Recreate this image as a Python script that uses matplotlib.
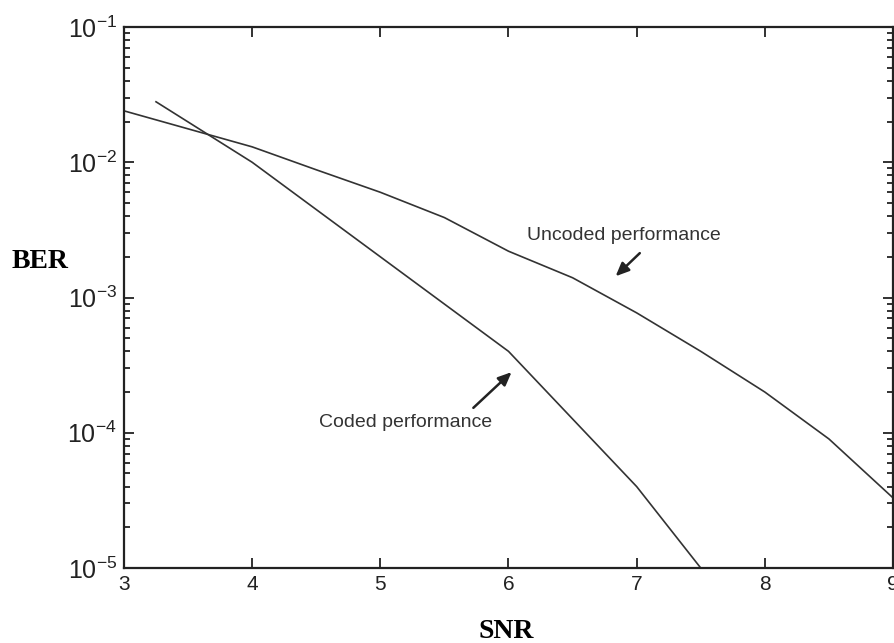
import numpy as np
import matplotlib.pyplot as plt

# values
snr_uncoded = [3.0, 4.0, 4.5, 5.0, 5.5, 6.0, 6.5, 7.0, 7.5, 8.0, 8.5, 9.0]
ber_uncoded = [0.024, 0.013, 0.0088, 0.006, 0.0039, 0.0022, 0.0014, 0.00077,
               0.0004, 0.0002, 0.00009, 0.000033]
snr_coded = [3.25, 4.0, 5.0, 6.0, 7.0, 7.5]
ber_coded = [0.028, 0.01, 0.002, 0.0004, 0.00004, 0.00001]
x_ticks = [3, 4, 5, 6, 7, 8, 9]

plt.rcParams['font.family'] = ['Liberation Sans', 'DejaVu Sans']
plt.rcParams['mathtext.fontset'] = 'custom'
plt.rcParams['mathtext.rm'] = 'Liberation Sans'

fig = plt.figure(figsize=(8.95, 6.43), dpi=100)
ax = fig.add_axes([0.1385, 0.1166, 0.8593, 0.8414])

ax.semilogy(snr_uncoded, ber_uncoded, color='#333333', lw=1.2)
ax.semilogy(snr_coded, ber_coded, color='#333333', lw=1.2)

ax.set_xlim(3, 9)
ax.set_ylim(1e-5, 1e-1)
ax.set_xticks(x_ticks)
ax.tick_params(which='both', direction='in', top=True, right=True, width=1.3,
               colors='#222222')
ax.tick_params(axis='x', labelsize=15)
ax.tick_params(axis='y', labelsize=18)
ax.tick_params(which='major', length=7, pad=5)
ax.tick_params(which='minor', length=4)
for s in ax.spines.values():
    s.set_linewidth(1.6)
    s.set_color('#222222')

fig.text(0.045, 0.593, 'BER', family='Liberation Serif', weight='bold',
         fontsize=20, ha='center', va='center')
fig.text(0.566, 0.018, 'SNR', family='Liberation Serif', weight='bold',
         fontsize=20, ha='center', va='center')

arrow = dict(arrowstyle='-|>,head_length=0.8,head_width=0.35', color='#222222', lw=1.8)
ax.annotate('', xy=(6.82, 1.39e-3), xytext=(7.04, 2.2e-3), arrowprops=arrow)
ax.text(6.90, 2.85e-3, 'Uncoded performance', fontsize=14, ha='center',
        va='center', color='#333333')
ax.annotate('', xy=(6.04, 2.9e-4), xytext=(5.71, 1.48e-4), arrowprops=arrow)
ax.text(5.20, 1.2e-4, 'Coded performance', fontsize=14, ha='center',
        va='center', color='#333333')

fig.savefig('out.png', dpi=100)
